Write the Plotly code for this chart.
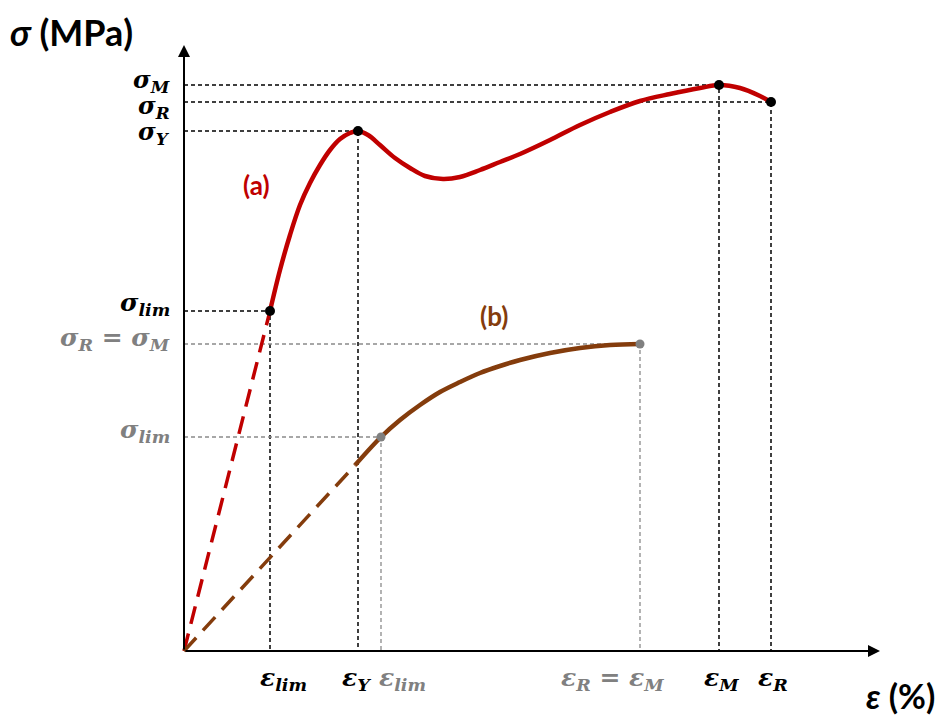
import plotly.graph_objects as go

# Curve (a): strain / stress values (arbitrary units, origin at 0,0)
strain_a = [86, 96, 106, 116, 126, 136, 146, 156, 166, 174, 184, 196, 211, 226, 241,
            259, 276, 296, 316, 336, 366, 396, 426, 456, 486, 516, 535, 556, 576, 587]
stress_a = [340, 381, 416, 446, 468, 486, 501, 512, 518, 520, 516, 506, 493, 483, 475,
            472, 474, 481, 489, 497, 511, 526, 539, 550, 557, 563, 566, 563, 555, 549]

# Curve (b)
strain_b = [197, 216, 236, 256, 276, 296, 316, 336, 366, 396, 426, 456]
stress_b = [214, 231, 246, 259, 269, 278, 285, 291, 298, 303, 306, 307]

# characteristic points of (a)
eps_lim_a, sig_lim_a = 86, 340
eps_Y, sig_Y = 174, 520
eps_M, sig_M = 535, 566
eps_R, sig_R = 587, 549

# characteristic points of (b)
eps_lim_b, sig_lim_b = 197, 214
eps_RM_b, sig_RM_b = 456, 307
b_dash_end = 171  # where the dashed linear part of (b) turns solid

x_axis_end = 696
y_axis_end = 606

RED = "#C00000"
BROWN = "#843C0C"
GREY = "#808080"
MATH = "DejaVu Serif"
SANS = "Lato"

fig = go.Figure()


def guide(x, y, color, width):
    # dashed helper lines: horizontal to the y axis and vertical to the x axis
    fig.add_trace(go.Scatter(x=[0, x, x], y=[y, y, 0], mode="lines",
                             line=dict(color=color, width=width, dash="4px,3px"),
                             hoverinfo="skip", showlegend=False))


for gx, gy in [(eps_M, sig_M), (eps_R, sig_R), (eps_Y, sig_Y), (eps_lim_a, sig_lim_a)]:
    guide(gx, gy, "black", 1.5)
for gx, gy in [(eps_RM_b, sig_RM_b), (eps_lim_b, sig_lim_b)]:
    guide(gx, gy, "#8a8a8a", 1.3)

# linear (dashed) parts
fig.add_trace(go.Scatter(x=[0, eps_lim_a], y=[0, sig_lim_a], mode="lines",
                         line=dict(color=RED, width=3.5, dash="18px,10px"),
                         showlegend=False))
slope_b = sig_lim_b / eps_lim_b
fig.add_trace(go.Scatter(x=[0, b_dash_end], y=[0, b_dash_end * slope_b], mode="lines",
                         line=dict(color=BROWN, width=3.5, dash="18px,10px"),
                         showlegend=False))

# curves
fig.add_trace(go.Scatter(x=strain_a, y=stress_a, mode="lines",
                         line=dict(color=RED, width=4.5, shape="spline", smoothing=1.0),
                         showlegend=False))
fig.add_trace(go.Scatter(x=[b_dash_end] + strain_b,
                         y=[b_dash_end * slope_b] + stress_b, mode="lines",
                         line=dict(color=BROWN, width=4.5, shape="spline", smoothing=1.0),
                         showlegend=False))

# markers
fig.add_trace(go.Scatter(x=[eps_lim_a, eps_Y, eps_M, eps_R],
                         y=[sig_lim_a, sig_Y, sig_M, sig_R], mode="markers",
                         marker=dict(color="black", size=10), showlegend=False))
fig.add_trace(go.Scatter(x=[eps_lim_b, eps_RM_b], y=[sig_lim_b, sig_RM_b], mode="markers",
                         marker=dict(color=GREY, size=9), showlegend=False))

# axes with arrows
fig.add_annotation(x=x_axis_end, y=0, ax=0, ay=0, xref="x", yref="y", axref="x", ayref="y",
                   showarrow=True, arrowhead=2, arrowsize=1.2, arrowwidth=2, arrowcolor="black",
                   text="")
fig.add_annotation(x=0, y=y_axis_end, ax=0, ay=0, xref="x", yref="y", axref="x", ayref="y",
                   showarrow=True, arrowhead=2, arrowsize=1.2, arrowwidth=2, arrowcolor="black",
                   text="")


def math_label(sym, sub):
    return f"<b><i>{sym}<sub>{sub}</sub></i></b>"


# y tick labels
y_labels = [
    (sig_M + 4, math_label("σ", "M"), "black", 24),
    (sig_R - 5, math_label("σ", "R"), "black", 24),
    (sig_Y - 2, math_label("σ", "Y"), "black", 24),
    (sig_lim_a + 7, math_label("σ", "lim"), "black", 25),
    (sig_RM_b + 5, "<b><i>σ<sub>R</sub> = σ<sub>M</sub></i></b>", GREY, 25),
    (sig_lim_b + 6, math_label("σ", "lim"), GREY, 25),
]
for yy, txt, col, size in y_labels:
    fig.add_annotation(x=-12, y=yy, text=txt, showarrow=False, xanchor="right",
                       yanchor="middle", font=dict(family=MATH, size=size, color=col))

# x tick labels
x_labels = [
    (eps_lim_a + 13, math_label("ε", "lim"), "black"),
    (eps_Y - 2, math_label("ε", "Y"), "black"),
    (eps_lim_b + 21, math_label("ε", "lim"), GREY),
    (eps_RM_b - 28, "<b><i>ε<sub>R</sub> = ε<sub>M</sub></i></b>", GREY),
    (eps_M + 2, math_label("ε", "M"), "black"),
    (eps_R + 2, math_label("ε", "R"), "black"),
]
for xx, txt, col in x_labels:
    fig.add_annotation(x=xx, y=-28, text=txt, showarrow=False, xanchor="center",
                       yanchor="middle", font=dict(family=MATH, size=25, color=col))

# axis titles
fig.add_annotation(x=-176, y=619, text="<b><i>σ</i> (MPa)</b>", showarrow=False,
                   xanchor="left", yanchor="middle", font=dict(family=SANS, size=36, color="black"))
fig.add_annotation(x=753, y=-44, text="<b><i>ε</i> (%)</b>", showarrow=False,
                   xanchor="right", yanchor="middle", font=dict(family=SANS, size=34, color="black"))

# curve names
fig.add_annotation(x=72, y=466, text="<b>(a)</b>", showarrow=False,
                   font=dict(family=SANS, size=26, color=RED))
fig.add_annotation(x=310, y=335, text="<b>(b)</b>", showarrow=False,
                   font=dict(family=SANS, size=26, color=BROWN))

fig.update_layout(
    width=941, height=716,
    margin=dict(l=0, r=0, t=0, b=0),
    plot_bgcolor="white", paper_bgcolor="white",
    xaxis=dict(range=[-184, 757], visible=False, fixedrange=True),
    yaxis=dict(range=[-65, 651], visible=False, fixedrange=True),
    showlegend=False,
)

fig.write_html("out.html", config={"displayModeBar": False},
               post_script="document.body.style.margin='0px';")
